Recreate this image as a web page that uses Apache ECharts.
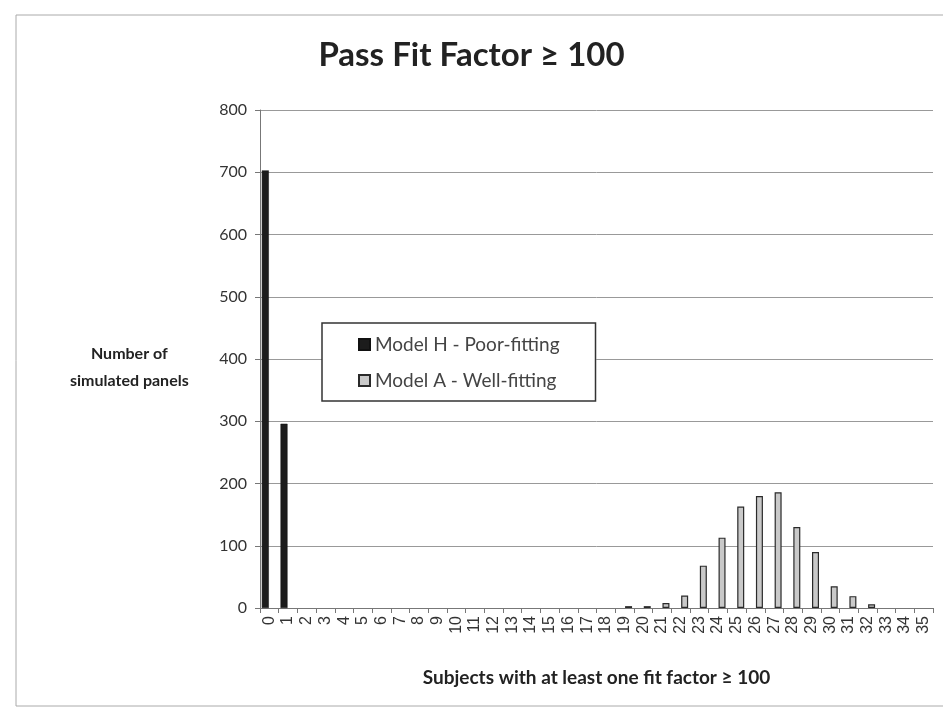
<!DOCTYPE html>
<html>
<head>
<meta charset="utf-8">
<script src="https://cdn.jsdelivr.net/npm/echarts@6/dist/echarts.min.js"></script>
<style>html,body{margin:0;padding:0;background:#fff;}#c{width:943px;height:711px;}</style>
</head>
<body>
<div id="c"></div>
<script>
const categories = ['0','1','2','3','4','5','6','7','8','9','10','11','12','13','14','15','16','17','18','19','20','21','22','23','24','25','26','27','28','29','30','31','32','33','34','35'];
const modelH = [703,296,0,0,0,0,0,0,0,0,0,0,0,0,0,0,0,0,0,0,0,0,0,0,0,0,0,0,0,0,0,0,0,0,0,0];
const modelA = [0,0,0,0,0,0,0,0,0,0,0,0,0,0,0,0,0,0,0,3,3,8,20,68,113,163,180,186,130,90,35,19,6,0,0,0];
const yTicks = [0,100,200,300,400,500,600,700,800];
const titleText = 'Pass Fit Factor \u2265 100';
const xName = 'Subjects with at least one fit factor \u2265 100';
const yName = 'Number of\nsimulated panels';
const seriesNames = ['Model H - Poor-fitting','Model A - Well-fitting'];

const hideZero = v => (v === 0 ? null : v);
const chart = echarts.init(document.getElementById('c'), null, {renderer:'canvas'});
const font = 'Lato, "Open Sans", sans-serif';
chart.setOption({
  animation:false,
  backgroundColor:'#fff',
  title:{text:titleText,left:'center',top:34,textStyle:{fontFamily:font,fontWeight:'bold',fontSize:33,color:'#222'}},
  graphic:[
    {type:'rect',shape:{x:16,y:15,width:940,height:691},style:{fill:'none',stroke:'#aaa',lineWidth:1},silent:true},
    {type:'text',left:70,top:340,style:{text:yName,fontFamily:font,fontWeight:'bold',fontSize:16,fill:'#222',textAlign:'center',lineHeight:27}}
  ],
  legend:{
    orient:'vertical',left:322,top:323,
    data:seriesNames,
    icon:'rect',
    itemWidth:11,itemHeight:11,itemGap:17,
    padding:[12,36,11,36],
    borderColor:'#333',borderWidth:1.5,backgroundColor:'#fff',
    textStyle:{fontFamily:font,fontSize:19,color:'#444'}
  },
  grid:{left:260,right:10,top:110,bottom:103,containLabel:false},
  xAxis:{
    type:'category',data:categories,
    name:xName,nameLocation:'middle',nameGap:60,
    nameTextStyle:{fontFamily:font,fontWeight:'bold',fontSize:19,color:'#222'},
    axisLine:{lineStyle:{color:'#777'}},
    axisTick:{show:true,alignWithLabel:false,length:5,lineStyle:{color:'#777'}},
    axisLabel:{interval:0,rotate:90,fontFamily:'"Liberation Sans", Arial, sans-serif',fontSize:16,color:'#333',margin:8}
  },
  yAxis:{
    type:'value',min:0,max:800,interval:100,
    axisLine:{show:true,lineStyle:{color:'#777'}},
    axisTick:{show:true,length:5,lineStyle:{color:'#777'}},
    splitLine:{lineStyle:{color:'#999',width:1}},
    axisLabel:{fontFamily:font,fontSize:16,color:'#333',margin:13,
      formatter:function(v){return yTicks.indexOf(v)>=0?String(v):'';}}
  },
  series:[
    {name:seriesNames[0],type:'bar',data:modelH.map(hideZero),barWidth:7,barGap:'15%',
     itemStyle:{color:'#1c1c1c',borderColor:'#111',borderWidth:0.5}},
    {name:seriesNames[1],type:'bar',data:modelA.map(hideZero),barWidth:7,
     itemStyle:{color:'#c9c9c9',borderColor:'#2a2a2a',borderWidth:1.2}}
  ]
});
</script>
</body>
</html>
